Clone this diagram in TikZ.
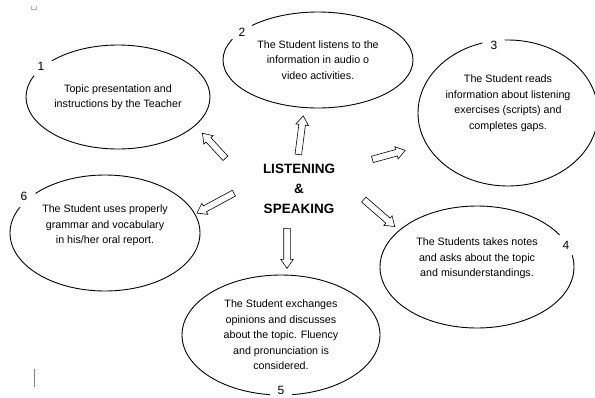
\documentclass[tikz,border=0pt]{standalone}
\usepackage{fontspec}
\setmainfont{Liberation Sans}
\usetikzlibrary{shapes.geometric, shapes.arrows, calc}

\tikzset{
  bubble/.style={ellipse, draw, line width=0.9pt, inner sep=0pt, align=center,
    font=\fontsize{10.7}{15.5}\selectfont},
  numlabel/.style={circle, fill=white, minimum size=24pt, inner sep=0pt,
    font=\fontsize{12}{13}\selectfont},
  blockarrow/.style={single arrow, draw, fill=white, line width=0.6pt,
    inner xsep=0pt, inner ysep=3pt, minimum width=12pt,
    single arrow head extend=3pt, single arrow tip angle=70,
    sloped, allow upside down},
}

\begin{document}
\begin{tikzpicture}[x=1pt, y=-1pt]
  \useasboundingbox (0,0) rectangle (595,397);
  % ellipses
  \node[bubble, minimum width=184pt, minimum height=104pt] (E1) at (118,97) {Topic presentation and\\instructions by the Teacher};
  \node[bubble, minimum width=190pt, minimum height=96pt] (E2) at (318,60) {The Student listens to the\\information in audio o\\video activities.};
  \node[bubble, minimum width=180pt, minimum height=146pt] (E3) at (508,113) {The Student reads\\information about listening\\exercises (scripts) and\\completes gaps.\\[6pt]};
  \node[bubble, minimum width=194pt, minimum height=122pt] (E4) at (477,267) {The Students takes notes\\and asks about the topic\\and misunderstandings.\\[4pt]};
  \node[bubble, minimum width=198pt, minimum height=120pt] (E5) at (281,335) {The Student exchanges\\opinions and discusses\\about the topic. Fluency\\and pronunciation is\\considered.};
  \node[bubble, minimum width=190pt, minimum height=116pt] (E6) at (105,233) {The Student uses properly\\grammar and vocabulary\\in his/her oral report.\\[2pt]};
  % numbers
  \node[numlabel] (N1) at (41,66) {1};
  \node[numlabel] (N2) at (242,32) {2};
  \node[numlabel] (N3) at (494,45) {3};
  \node[numlabel] (N4) at (566,245) {4};
  \node[numlabel] (N5) at (281,390) {5};
  \node[numlabel] (N6) at (24,196) {6};
  % centre
  \node[align=center, font=\fontsize{13.5}{20}\selectfont\bfseries] (LS) at (299,189) {LISTENING\\\&\\SPEAKING};
  % arrow ends
  \coordinate (t1) at (227,160); \coordinate (h1) at (204,135);
  \coordinate (t2) at (298,157); \coordinate (h2) at (303,118);
  \coordinate (t3) at (370,160); \coordinate (h3) at (403,151);
  \coordinate (t4) at (362,198); \coordinate (h4) at (393,225);
  \coordinate (t5) at (287,226); \coordinate (h5) at (287,266);
  \coordinate (t6) at (236,192); \coordinate (h6) at (199,212);
  \path (t1) -- (h1) node[midway, blockarrow, minimum height=34pt] (A1) {};
  \path (t2) -- (h2) node[midway, blockarrow, minimum height=39pt] (A2) {};
  \path (t3) -- (h3) node[midway, blockarrow, minimum height=34pt] (A3) {};
  \path (t4) -- (h4) node[midway, blockarrow, minimum height=41pt] (A4) {};
  \path (t5) -- (h5) node[midway, blockarrow, minimum height=40pt] (A5) {};
  \path (t6) -- (h6) node[midway, blockarrow, minimum height=42pt] (A6) {};
  % stray marks
  \draw[gray, line width=0.6pt] (34,369) -- (34,387);
  \draw[gray!60, line width=0.4pt] (31,6) -- (31,9) -- (36,9) -- (36,6);
\end{tikzpicture}
\end{document}
